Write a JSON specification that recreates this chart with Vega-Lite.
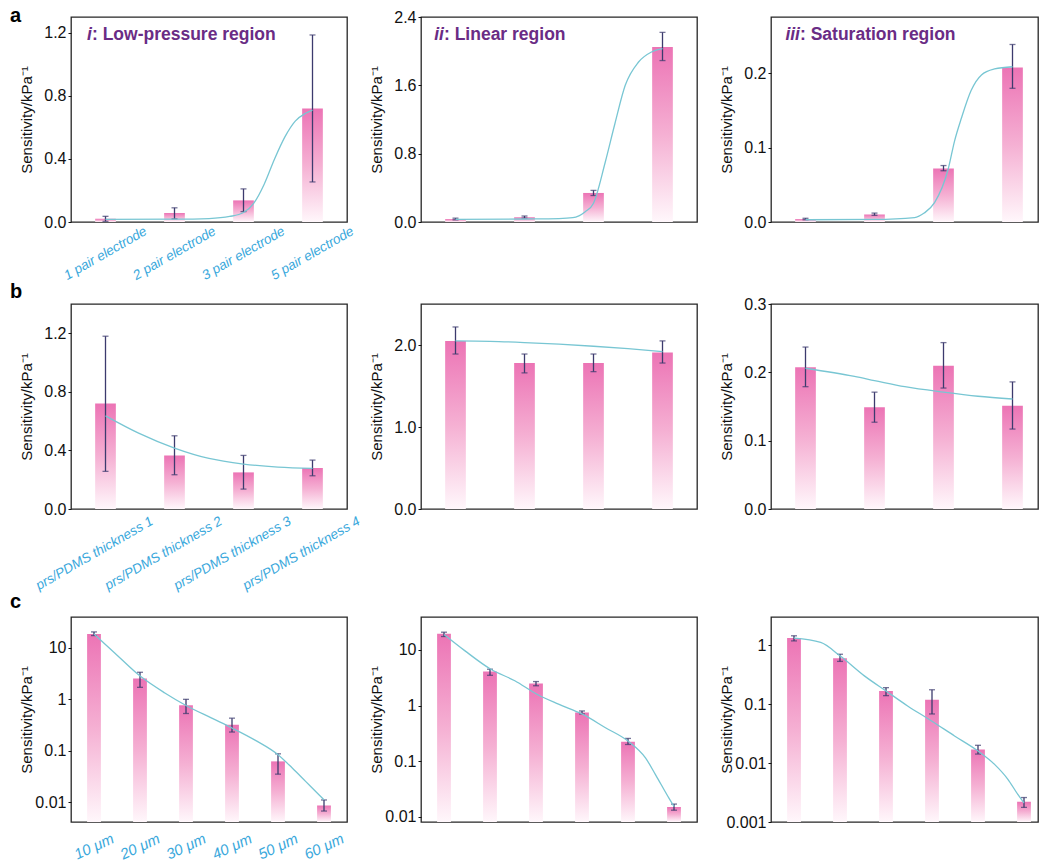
{
"$schema": "https://vega.github.io/schema/vega-lite/v6.json",
"padding": {"left": 9, "top": 5, "right": 0, "bottom": 0},
"background": "white",
"config": {
 "font": "Liberation Sans",
 "view": {"stroke": "#262626", "strokeWidth": 1.3},
 "axis": {"grid": false, "domain": false, "labelColor": "#111111", "titleColor": "#111111"},
 "axisY": {"labelFontSize": 16, "titleFontSize": 15, "titleFontWeight": "normal", "ticks": true, "tickSize": 3, "tickColor": "#111111", "labelPadding": 2, "minExtent": 30, "maxExtent": 30, "titlePadding": 7},
 "axisX": {"ticks": false, "tickSize": 0, "labelFontStyle": "italic", "labelColor": "#3aa8dc", "labelAlign": "center", "labelBaseline": "middle", "labelOverlap": false, "labelLimit": 0, "title": null},
 "title": {"anchor": "start", "frame": "group", "orient": "top", "offset": 0, "fontSize": 20, "fontWeight": "bold", "color": "#000000", "baseline": "alphabetic"}
},
"spacing": -2,
"vconcat": [
{"hconcat": [
 {"width": 276, "height": 205,
  "title": {"text": "a", "dx": -61, "dy": 13},
  "resolve": {"scale": {"x": "independent"}},
  "layer": [
   {"data": {"values": [
     {"cat": "1 pair electrode", "value": 0.02, "lo": 0.004, "hi": 0.036},
     {"cat": "2 pair electrode", "value": 0.057, "lo": 0.02, "hi": 0.09},
     {"cat": "3 pair electrode", "value": 0.137, "lo": 0.066, "hi": 0.21},
     {"cat": "5 pair electrode", "value": 0.72, "lo": 0.254, "hi": 1.186}]},
    "encoding": {"x": {"field": "cat", "type": "nominal", "sort": null, "scale": {"paddingInner": 0.7, "paddingOuter": 0.35}, "axis": {"labelAngle": -30, "labelPadding": 31, "labelFontSize": 13.5}}},
    "layer": [
     {"mark": {"type": "bar", "color": {"gradient": "linear", "x1": 0, "y1": 0, "x2": 0, "y2": 1, "stops": [{"offset": 0, "color": "#ec74b5"}, {"offset": 0.5, "color": "#f5b0d3"}, {"offset": 1, "color": "#fff7fb"}]}},
      "encoding": {"y": {"field": "value", "type": "quantitative", "title": "Sensitivity/kPa⁻¹", "scale": {"domain": [0, 1.3], "nice": false}, "axis": {"values": [0, 0.4, 0.8, 1.2], "format": ".1f"}}}},
     {"mark": {"type": "rule", "color": "#3c3b6e", "strokeWidth": 1.3},
      "encoding": {"y": {"field": "lo", "type": "quantitative", "title": "Sensitivity/kPa⁻¹", "scale": {"domain": [0, 1.3], "nice": false}}, "y2": {"field": "hi"}}},
     {"mark": {"type": "tick", "color": "#3c3b6e", "thickness": 1.3, "size": 6},
      "encoding": {"y": {"field": "lo", "type": "quantitative", "title": "Sensitivity/kPa⁻¹", "scale": {"domain": [0, 1.3], "nice": false}}}},
     {"mark": {"type": "tick", "color": "#3c3b6e", "thickness": 1.3, "size": 6},
      "encoding": {"y": {"field": "hi", "type": "quantitative", "title": "Sensitivity/kPa⁻¹", "scale": {"domain": [0, 1.3], "nice": false}}}}
    ]},
   {"data": {"values": [
     {"pos": 1, "value": 0.017}, {"pos": 2, "value": 0.018}, {"pos": 2.5, "value": 0.022}, {"pos": 2.8, "value": 0.035},
     {"pos": 3.0, "value": 0.06}, {"pos": 3.15, "value": 0.12}, {"pos": 3.3, "value": 0.24}, {"pos": 3.45, "value": 0.40},
     {"pos": 3.6, "value": 0.54}, {"pos": 3.75, "value": 0.64}, {"pos": 3.9, "value": 0.69}, {"pos": 4.0, "value": 0.71}]},
    "mark": {"type": "line", "color": "#78c6d3", "strokeWidth": 1.3, "interpolate": "monotone"},
    "encoding": {"x": {"field": "pos", "type": "quantitative", "scale": {"domain": [0.5, 4.5]}, "axis": null},
     "y": {"field": "value", "type": "quantitative", "title": "Sensitivity/kPa⁻¹", "scale": {"domain": [0, 1.3], "nice": false}}}},
   {"data": {"values": [{"pos": 0.804, "value": 1.157, "num": "i", "rest": ": Low-pressure region"}]},
    "encoding": {"x": {"field": "pos", "type": "quantitative", "scale": {"domain": [0.5, 4.5]}, "axis": null},
     "y": {"field": "value", "type": "quantitative", "title": "Sensitivity/kPa⁻¹", "scale": {"domain": [0, 1.3], "nice": false}}},
    "layer": [
     {"mark": {"type": "text", "align": "right", "baseline": "alphabetic", "fontSize": 17.5, "fontWeight": "bold", "fontStyle": "italic", "color": "#6a2c85"}, "encoding": {"text": {"field": "num"}}},
     {"mark": {"type": "text", "align": "left", "baseline": "alphabetic", "fontSize": 17.5, "fontWeight": "bold", "color": "#6a2c85"}, "encoding": {"text": {"field": "rest"}}}
    ]}
  ]},
 {"width": 276, "height": 205,
  "resolve": {"scale": {"x": "independent"}},
  "layer": [
   {"data": {"values": [
     {"cat": "1 pair electrode", "value": 0.035, "lo": 0.025, "hi": 0.045},
     {"cat": "2 pair electrode", "value": 0.055, "lo": 0.045, "hi": 0.07},
     {"cat": "3 pair electrode", "value": 0.34, "lo": 0.31, "hi": 0.37},
     {"cat": "5 pair electrode", "value": 2.05, "lo": 1.89, "hi": 2.22}]},
    "encoding": {"x": {"field": "cat", "type": "nominal", "sort": null, "scale": {"paddingInner": 0.7, "paddingOuter": 0.35}, "axis": null}},
    "layer": [
     {"mark": {"type": "bar", "color": {"gradient": "linear", "x1": 0, "y1": 0, "x2": 0, "y2": 1, "stops": [{"offset": 0, "color": "#ec74b5"}, {"offset": 0.5, "color": "#f5b0d3"}, {"offset": 1, "color": "#fff7fb"}]}},
      "encoding": {"y": {"field": "value", "type": "quantitative", "title": "Sensitivity/kPa⁻¹", "scale": {"domain": [0, 2.4], "nice": false}, "axis": {"values": [0, 0.8, 1.6, 2.4], "format": ".1f"}}}},
     {"mark": {"type": "rule", "color": "#3c3b6e", "strokeWidth": 1.3},
      "encoding": {"y": {"field": "lo", "type": "quantitative", "title": "Sensitivity/kPa⁻¹", "scale": {"domain": [0, 2.4], "nice": false}}, "y2": {"field": "hi"}}},
     {"mark": {"type": "tick", "color": "#3c3b6e", "thickness": 1.3, "size": 6},
      "encoding": {"y": {"field": "lo", "type": "quantitative", "title": "Sensitivity/kPa⁻¹", "scale": {"domain": [0, 2.4], "nice": false}}}},
     {"mark": {"type": "tick", "color": "#3c3b6e", "thickness": 1.3, "size": 6},
      "encoding": {"y": {"field": "hi", "type": "quantitative", "title": "Sensitivity/kPa⁻¹", "scale": {"domain": [0, 2.4], "nice": false}}}}
    ]},
   {"data": {"values": [
     {"pos": 1, "value": 0.03}, {"pos": 2, "value": 0.035}, {"pos": 2.5, "value": 0.04}, {"pos": 2.7, "value": 0.05},
     {"pos": 2.88, "value": 0.12}, {"pos": 3.0, "value": 0.22}, {"pos": 3.17, "value": 0.7}, {"pos": 3.31, "value": 1.15},
     {"pos": 3.46, "value": 1.6}, {"pos": 3.65, "value": 1.87}, {"pos": 3.84, "value": 1.99}, {"pos": 4.0, "value": 2.03}]},
    "mark": {"type": "line", "color": "#78c6d3", "strokeWidth": 1.3, "interpolate": "monotone"},
    "encoding": {"x": {"field": "pos", "type": "quantitative", "scale": {"domain": [0.5, 4.5]}, "axis": null},
     "y": {"field": "value", "type": "quantitative", "title": "Sensitivity/kPa⁻¹", "scale": {"domain": [0, 2.4], "nice": false}}}},
   {"data": {"values": [{"pos": 0.833, "value": 2.13, "num": "ii", "rest": ": Linear region"}]},
    "encoding": {"x": {"field": "pos", "type": "quantitative", "scale": {"domain": [0.5, 4.5]}, "axis": null},
     "y": {"field": "value", "type": "quantitative", "title": "Sensitivity/kPa⁻¹", "scale": {"domain": [0, 2.4], "nice": false}}},
    "layer": [
     {"mark": {"type": "text", "align": "right", "baseline": "alphabetic", "fontSize": 17.5, "fontWeight": "bold", "fontStyle": "italic", "color": "#6a2c85"}, "encoding": {"text": {"field": "num"}}},
     {"mark": {"type": "text", "align": "left", "baseline": "alphabetic", "fontSize": 17.5, "fontWeight": "bold", "color": "#6a2c85"}, "encoding": {"text": {"field": "rest"}}}
    ]}
  ]},
 {"width": 267, "height": 205,
  "resolve": {"scale": {"x": "independent"}},
  "layer": [
   {"data": {"values": [
     {"cat": "1 pair electrode", "value": 0.004, "lo": 0.003, "hi": 0.005},
     {"cat": "2 pair electrode", "value": 0.01, "lo": 0.009, "hi": 0.012},
     {"cat": "3 pair electrode", "value": 0.072, "lo": 0.069, "hi": 0.076},
     {"cat": "5 pair electrode", "value": 0.208, "lo": 0.18, "hi": 0.239}]},
    "encoding": {"x": {"field": "cat", "type": "nominal", "sort": null, "scale": {"paddingInner": 0.7, "paddingOuter": 0.35, "range": [0, 276]}, "axis": null}},
    "layer": [
     {"mark": {"type": "bar", "color": {"gradient": "linear", "x1": 0, "y1": 0, "x2": 0, "y2": 1, "stops": [{"offset": 0, "color": "#ec74b5"}, {"offset": 0.5, "color": "#f5b0d3"}, {"offset": 1, "color": "#fff7fb"}]}},
      "encoding": {"y": {"field": "value", "type": "quantitative", "title": "Sensitivity/kPa⁻¹", "scale": {"domain": [0, 0.276], "nice": false}, "axis": {"values": [0, 0.1, 0.2], "format": ".1f"}}}},
     {"mark": {"type": "rule", "color": "#3c3b6e", "strokeWidth": 1.3},
      "encoding": {"y": {"field": "lo", "type": "quantitative", "title": "Sensitivity/kPa⁻¹", "scale": {"domain": [0, 0.276], "nice": false}}, "y2": {"field": "hi"}}},
     {"mark": {"type": "tick", "color": "#3c3b6e", "thickness": 1.3, "size": 6},
      "encoding": {"y": {"field": "lo", "type": "quantitative", "title": "Sensitivity/kPa⁻¹", "scale": {"domain": [0, 0.276], "nice": false}}}},
     {"mark": {"type": "tick", "color": "#3c3b6e", "thickness": 1.3, "size": 6},
      "encoding": {"y": {"field": "hi", "type": "quantitative", "title": "Sensitivity/kPa⁻¹", "scale": {"domain": [0, 0.276], "nice": false}}}}
    ]},
   {"data": {"values": [
     {"pos": 1, "value": 0.003}, {"pos": 2, "value": 0.0035}, {"pos": 2.58, "value": 0.006}, {"pos": 2.72, "value": 0.012},
     {"pos": 2.87, "value": 0.026}, {"pos": 3.07, "value": 0.072}, {"pos": 3.16, "value": 0.109}, {"pos": 3.26, "value": 0.14},
     {"pos": 3.4, "value": 0.177}, {"pos": 3.55, "value": 0.198}, {"pos": 3.74, "value": 0.206}, {"pos": 4.0, "value": 0.209}]},
    "mark": {"type": "line", "color": "#78c6d3", "strokeWidth": 1.3, "interpolate": "monotone"},
    "encoding": {"x": {"field": "pos", "type": "quantitative", "scale": {"domain": [0.5, 4.5], "range": [0, 276]}, "axis": null},
     "y": {"field": "value", "type": "quantitative", "title": "Sensitivity/kPa⁻¹", "scale": {"domain": [0, 0.276], "nice": false}}}},
   {"data": {"values": [{"pos": 0.92, "value": 0.245, "num": "iii", "rest": ": Saturation region"}]},
    "encoding": {"x": {"field": "pos", "type": "quantitative", "scale": {"domain": [0.5, 4.5], "range": [0, 276]}, "axis": null},
     "y": {"field": "value", "type": "quantitative", "title": "Sensitivity/kPa⁻¹", "scale": {"domain": [0, 0.276], "nice": false}}},
    "layer": [
     {"mark": {"type": "text", "align": "right", "baseline": "alphabetic", "fontSize": 17.5, "fontWeight": "bold", "fontStyle": "italic", "color": "#6a2c85"}, "encoding": {"text": {"field": "num"}}},
     {"mark": {"type": "text", "align": "left", "baseline": "alphabetic", "fontSize": 17.5, "fontWeight": "bold", "color": "#6a2c85"}, "encoding": {"text": {"field": "rest"}}}
    ]}
  ]}
], "spacing": 74, "bounds": "flush"},
{"hconcat": [
 {"width": 276, "height": 205,
  "title": {"text": "b", "dx": -61, "dy": 2},
  "resolve": {"scale": {"x": "independent"}},
  "layer": [
   {"data": {"values": [
     {"cat": "prs/PDMS thickness 1", "value": 0.72, "lo": 0.257, "hi": 1.18},
     {"cat": "prs/PDMS thickness 2", "value": 0.366, "lo": 0.234, "hi": 0.50},
     {"cat": "prs/PDMS thickness 3", "value": 0.25, "lo": 0.136, "hi": 0.366},
     {"cat": "prs/PDMS thickness 4", "value": 0.28, "lo": 0.227, "hi": 0.334}]},
    "encoding": {"x": {"field": "cat", "type": "nominal", "sort": null, "scale": {"paddingInner": 0.7, "paddingOuter": 0.35}, "axis": {"labelAngle": -30, "labelPadding": 44, "labelOffset": -11, "labelFontSize": 13.5}}},
    "layer": [
     {"mark": {"type": "bar", "color": {"gradient": "linear", "x1": 0, "y1": 0, "x2": 0, "y2": 1, "stops": [{"offset": 0, "color": "#ec74b5"}, {"offset": 0.5, "color": "#f5b0d3"}, {"offset": 1, "color": "#fff7fb"}]}},
      "encoding": {"y": {"field": "value", "type": "quantitative", "title": "Sensitivity/kPa⁻¹", "scale": {"domain": [0, 1.4], "nice": false}, "axis": {"values": [0, 0.4, 0.8, 1.2], "format": ".1f"}}}},
     {"mark": {"type": "rule", "color": "#3c3b6e", "strokeWidth": 1.3},
      "encoding": {"y": {"field": "lo", "type": "quantitative", "title": "Sensitivity/kPa⁻¹", "scale": {"domain": [0, 1.4], "nice": false}}, "y2": {"field": "hi"}}},
     {"mark": {"type": "tick", "color": "#3c3b6e", "thickness": 1.3, "size": 6},
      "encoding": {"y": {"field": "lo", "type": "quantitative", "title": "Sensitivity/kPa⁻¹", "scale": {"domain": [0, 1.4], "nice": false}}}},
     {"mark": {"type": "tick", "color": "#3c3b6e", "thickness": 1.3, "size": 6},
      "encoding": {"y": {"field": "hi", "type": "quantitative", "title": "Sensitivity/kPa⁻¹", "scale": {"domain": [0, 1.4], "nice": false}}}}
    ]},
   {"data": {"values": [
     {"pos": 1, "value": 0.636}, {"pos": 1.48, "value": 0.518}, {"pos": 2, "value": 0.416}, {"pos": 2.5, "value": 0.345},
     {"pos": 3, "value": 0.307}, {"pos": 3.5, "value": 0.286}, {"pos": 4, "value": 0.277}]},
    "mark": {"type": "line", "color": "#78c6d3", "strokeWidth": 1.3, "interpolate": "monotone"},
    "encoding": {"x": {"field": "pos", "type": "quantitative", "scale": {"domain": [0.5, 4.5]}, "axis": null},
     "y": {"field": "value", "type": "quantitative", "title": "Sensitivity/kPa⁻¹", "scale": {"domain": [0, 1.4], "nice": false}}}}
  ]},
 {"width": 276, "height": 205,
  "resolve": {"scale": {"x": "independent"}},
  "layer": [
   {"data": {"values": [
     {"cat": "prs/PDMS thickness 1", "value": 2.05, "lo": 1.89, "hi": 2.22},
     {"cat": "prs/PDMS thickness 2", "value": 1.78, "lo": 1.66, "hi": 1.89},
     {"cat": "prs/PDMS thickness 3", "value": 1.78, "lo": 1.675, "hi": 1.89},
     {"cat": "prs/PDMS thickness 4", "value": 1.91, "lo": 1.78, "hi": 2.05}]},
    "encoding": {"x": {"field": "cat", "type": "nominal", "sort": null, "scale": {"paddingInner": 0.7, "paddingOuter": 0.35}, "axis": null}},
    "layer": [
     {"mark": {"type": "bar", "color": {"gradient": "linear", "x1": 0, "y1": 0, "x2": 0, "y2": 1, "stops": [{"offset": 0, "color": "#ec74b5"}, {"offset": 0.5, "color": "#f5b0d3"}, {"offset": 1, "color": "#fff7fb"}]}},
      "encoding": {"y": {"field": "value", "type": "quantitative", "title": "Sensitivity/kPa⁻¹", "scale": {"domain": [0, 2.5], "nice": false}, "axis": {"values": [0, 1, 2], "format": ".1f"}}}},
     {"mark": {"type": "rule", "color": "#3c3b6e", "strokeWidth": 1.3},
      "encoding": {"y": {"field": "lo", "type": "quantitative", "title": "Sensitivity/kPa⁻¹", "scale": {"domain": [0, 2.5], "nice": false}}, "y2": {"field": "hi"}}},
     {"mark": {"type": "tick", "color": "#3c3b6e", "thickness": 1.3, "size": 6},
      "encoding": {"y": {"field": "lo", "type": "quantitative", "title": "Sensitivity/kPa⁻¹", "scale": {"domain": [0, 2.5], "nice": false}}}},
     {"mark": {"type": "tick", "color": "#3c3b6e", "thickness": 1.3, "size": 6},
      "encoding": {"y": {"field": "hi", "type": "quantitative", "title": "Sensitivity/kPa⁻¹", "scale": {"domain": [0, 2.5], "nice": false}}}}
    ]},
   {"data": {"values": [
     {"pos": 1, "value": 2.05}, {"pos": 1.5, "value": 2.045}, {"pos": 2, "value": 2.03}, {"pos": 2.5, "value": 2.01},
     {"pos": 3, "value": 1.985}, {"pos": 3.5, "value": 1.955}, {"pos": 4, "value": 1.92}]},
    "mark": {"type": "line", "color": "#78c6d3", "strokeWidth": 1.3, "interpolate": "monotone"},
    "encoding": {"x": {"field": "pos", "type": "quantitative", "scale": {"domain": [0.5, 4.5]}, "axis": null},
     "y": {"field": "value", "type": "quantitative", "title": "Sensitivity/kPa⁻¹", "scale": {"domain": [0, 2.5], "nice": false}}}}
  ]},
 {"width": 267, "height": 205,
  "resolve": {"scale": {"x": "independent"}},
  "layer": [
   {"data": {"values": [
     {"cat": "prs/PDMS thickness 1", "value": 0.2075, "lo": 0.179, "hi": 0.237},
     {"cat": "prs/PDMS thickness 2", "value": 0.149, "lo": 0.127, "hi": 0.171},
     {"cat": "prs/PDMS thickness 3", "value": 0.2095, "lo": 0.177, "hi": 0.2435},
     {"cat": "prs/PDMS thickness 4", "value": 0.151, "lo": 0.117, "hi": 0.186}]},
    "encoding": {"x": {"field": "cat", "type": "nominal", "sort": null, "scale": {"paddingInner": 0.7, "paddingOuter": 0.35, "range": [0, 276]}, "axis": null}},
    "layer": [
     {"mark": {"type": "bar", "color": {"gradient": "linear", "x1": 0, "y1": 0, "x2": 0, "y2": 1, "stops": [{"offset": 0, "color": "#ec74b5"}, {"offset": 0.5, "color": "#f5b0d3"}, {"offset": 1, "color": "#fff7fb"}]}},
      "encoding": {"y": {"field": "value", "type": "quantitative", "title": "Sensitivity/kPa⁻¹", "scale": {"domain": [0, 0.3], "nice": false}, "axis": {"values": [0, 0.1, 0.2, 0.3], "format": ".1f"}}}},
     {"mark": {"type": "rule", "color": "#3c3b6e", "strokeWidth": 1.3},
      "encoding": {"y": {"field": "lo", "type": "quantitative", "title": "Sensitivity/kPa⁻¹", "scale": {"domain": [0, 0.3], "nice": false}}, "y2": {"field": "hi"}}},
     {"mark": {"type": "tick", "color": "#3c3b6e", "thickness": 1.3, "size": 6},
      "encoding": {"y": {"field": "lo", "type": "quantitative", "title": "Sensitivity/kPa⁻¹", "scale": {"domain": [0, 0.3], "nice": false}}}},
     {"mark": {"type": "tick", "color": "#3c3b6e", "thickness": 1.3, "size": 6},
      "encoding": {"y": {"field": "hi", "type": "quantitative", "title": "Sensitivity/kPa⁻¹", "scale": {"domain": [0, 0.3], "nice": false}}}}
    ]},
   {"data": {"values": [
     {"pos": 1, "value": 0.206}, {"pos": 1.71, "value": 0.194}, {"pos": 2, "value": 0.188}, {"pos": 2.44, "value": 0.179},
     {"pos": 3, "value": 0.171}, {"pos": 3.5, "value": 0.165}, {"pos": 4, "value": 0.161}]},
    "mark": {"type": "line", "color": "#78c6d3", "strokeWidth": 1.3, "interpolate": "monotone"},
    "encoding": {"x": {"field": "pos", "type": "quantitative", "scale": {"domain": [0.5, 4.5], "range": [0, 276]}, "axis": null},
     "y": {"field": "value", "type": "quantitative", "title": "Sensitivity/kPa⁻¹", "scale": {"domain": [0, 0.3], "nice": false}}}}
  ]}
], "spacing": 74, "bounds": "flush"},
{"hconcat": [
 {"width": 276, "height": 205,
  "title": {"text": "c", "dx": -61, "dy": -1},
  "resolve": {"scale": {"x": "independent"}},
  "layer": [
   {"data": {"values": [
     {"cat": "10 μm", "value": 18.7, "lo": 17.4, "hi": 20.5},
     {"cat": "20 μm", "value": 2.53, "lo": 1.71, "hi": 3.36},
     {"cat": "30 μm", "value": 0.764, "lo": 0.53, "hi": 1.0},
     {"cat": "40 μm", "value": 0.321, "lo": 0.231, "hi": 0.43},
     {"cat": "50 μm", "value": 0.062, "lo": 0.035, "hi": 0.087},
     {"cat": "60 μm", "value": 0.0086, "lo": 0.0067, "hi": 0.011}]},
    "encoding": {"x": {"field": "cat", "type": "nominal", "sort": null, "scale": {"paddingInner": 0.7, "paddingOuter": 0.35}, "axis": {"labelAngle": -25, "labelPadding": 24, "labelFontSize": 15}}},
    "layer": [
     {"mark": {"type": "bar", "color": {"gradient": "linear", "x1": 0, "y1": 0, "x2": 0, "y2": 1, "stops": [{"offset": 0, "color": "#ec74b5"}, {"offset": 0.5, "color": "#f5b0d3"}, {"offset": 1, "color": "#fff7fb"}]}},
      "encoding": {"y": {"field": "value", "type": "quantitative", "title": "Sensitivity/kPa⁻¹", "scale": {"type": "log", "domain": [0.0041, 40], "nice": false}, "axis": {"values": [0.01, 0.1, 1, 10], "format": "~g"}}, "y2": {"datum": 0.0041}}},
     {"mark": {"type": "rule", "color": "#3c3b6e", "strokeWidth": 1.3},
      "encoding": {"y": {"field": "lo", "type": "quantitative", "title": "Sensitivity/kPa⁻¹", "scale": {"type": "log", "domain": [0.0041, 40], "nice": false}}, "y2": {"field": "hi"}}},
     {"mark": {"type": "tick", "color": "#3c3b6e", "thickness": 1.3, "size": 6},
      "encoding": {"y": {"field": "lo", "type": "quantitative", "title": "Sensitivity/kPa⁻¹", "scale": {"type": "log", "domain": [0.0041, 40], "nice": false}}}},
     {"mark": {"type": "tick", "color": "#3c3b6e", "thickness": 1.3, "size": 6},
      "encoding": {"y": {"field": "hi", "type": "quantitative", "title": "Sensitivity/kPa⁻¹", "scale": {"type": "log", "domain": [0.0041, 40], "nice": false}}}}
    ]},
   {"data": {"values": [
     {"pos": 1, "value": 18.7}, {"pos": 1.45, "value": 8.0}, {"pos": 2.01, "value": 2.8}, {"pos": 2.54, "value": 1.33},
     {"pos": 3.0, "value": 0.76}, {"pos": 3.56, "value": 0.43}, {"pos": 4.0, "value": 0.277}, {"pos": 4.51, "value": 0.159},
     {"pos": 5.0, "value": 0.0836}, {"pos": 5.31, "value": 0.046}, {"pos": 5.6, "value": 0.0253}, {"pos": 5.89, "value": 0.0139}, {"pos": 6.0, "value": 0.0111}]},
    "mark": {"type": "line", "color": "#78c6d3", "strokeWidth": 1.3, "interpolate": "monotone"},
    "encoding": {"x": {"field": "pos", "type": "quantitative", "scale": {"domain": [0.5, 6.5]}, "axis": null},
     "y": {"field": "value", "type": "quantitative", "title": "Sensitivity/kPa⁻¹", "scale": {"type": "log", "domain": [0.0041, 40], "nice": false}}}}
  ]},
 {"width": 276, "height": 205,
  "resolve": {"scale": {"x": "independent"}},
  "layer": [
   {"data": {"values": [
     {"cat": "10 μm", "value": 19.5, "lo": 17.4, "hi": 20.8},
     {"cat": "20 μm", "value": 4.1, "lo": 3.5, "hi": 4.5},
     {"cat": "30 μm", "value": 2.5, "lo": 2.27, "hi": 2.7},
     {"cat": "40 μm", "value": 0.747, "lo": 0.707, "hi": 0.8},
     {"cat": "50 μm", "value": 0.224, "lo": 0.2, "hi": 0.257},
     {"cat": "60 μm", "value": 0.015, "lo": 0.0132, "hi": 0.017}]},
    "encoding": {"x": {"field": "cat", "type": "nominal", "sort": null, "scale": {"paddingInner": 0.7, "paddingOuter": 0.35}, "axis": null}},
    "layer": [
     {"mark": {"type": "bar", "color": {"gradient": "linear", "x1": 0, "y1": 0, "x2": 0, "y2": 1, "stops": [{"offset": 0, "color": "#ec74b5"}, {"offset": 0.5, "color": "#f5b0d3"}, {"offset": 1, "color": "#fff7fb"}]}},
      "encoding": {"y": {"field": "value", "type": "quantitative", "title": "Sensitivity/kPa⁻¹", "scale": {"type": "log", "domain": [0.0081, 39], "nice": false}, "axis": {"values": [0.01, 0.1, 1, 10], "format": "~g"}}, "y2": {"datum": 0.0081}}},
     {"mark": {"type": "rule", "color": "#3c3b6e", "strokeWidth": 1.3},
      "encoding": {"y": {"field": "lo", "type": "quantitative", "title": "Sensitivity/kPa⁻¹", "scale": {"type": "log", "domain": [0.0081, 39], "nice": false}}, "y2": {"field": "hi"}}},
     {"mark": {"type": "tick", "color": "#3c3b6e", "thickness": 1.3, "size": 6},
      "encoding": {"y": {"field": "lo", "type": "quantitative", "title": "Sensitivity/kPa⁻¹", "scale": {"type": "log", "domain": [0.0081, 39], "nice": false}}}},
     {"mark": {"type": "tick", "color": "#3c3b6e", "thickness": 1.3, "size": 6},
      "encoding": {"y": {"field": "hi", "type": "quantitative", "title": "Sensitivity/kPa⁻¹", "scale": {"type": "log", "domain": [0.0081, 39], "nice": false}}}}
    ]},
   {"data": {"values": [
     {"pos": 1, "value": 18.9}, {"pos": 1.45, "value": 9.7}, {"pos": 2.01, "value": 4.53}, {"pos": 2.54, "value": 2.79},
     {"pos": 3.02, "value": 1.6}, {"pos": 3.49, "value": 1.06}, {"pos": 4.01, "value": 0.70}, {"pos": 4.51, "value": 0.40},
     {"pos": 5.0, "value": 0.23}, {"pos": 5.38, "value": 0.115}, {"pos": 5.6, "value": 0.057}, {"pos": 5.89, "value": 0.0217}, {"pos": 6.0, "value": 0.0154}]},
    "mark": {"type": "line", "color": "#78c6d3", "strokeWidth": 1.3, "interpolate": "monotone"},
    "encoding": {"x": {"field": "pos", "type": "quantitative", "scale": {"domain": [0.5, 6.5]}, "axis": null},
     "y": {"field": "value", "type": "quantitative", "title": "Sensitivity/kPa⁻¹", "scale": {"type": "log", "domain": [0.0081, 39], "nice": false}}}}
  ]},
 {"width": 267, "height": 205,
  "resolve": {"scale": {"x": "independent"}},
  "layer": [
   {"data": {"values": [
     {"cat": "10 μm", "value": 1.32, "lo": 1.18, "hi": 1.44},
     {"cat": "20 μm", "value": 0.6, "lo": 0.53, "hi": 0.70},
     {"cat": "30 μm", "value": 0.167, "lo": 0.139, "hi": 0.19},
     {"cat": "40 μm", "value": 0.118, "lo": 0.068, "hi": 0.175},
     {"cat": "50 μm", "value": 0.0169, "lo": 0.0142, "hi": 0.02},
     {"cat": "60 μm", "value": 0.0022, "lo": 0.00177, "hi": 0.0026}]},
    "encoding": {"x": {"field": "cat", "type": "nominal", "sort": null, "scale": {"paddingInner": 0.7, "paddingOuter": 0.35, "range": [0, 276]}, "axis": null}},
    "layer": [
     {"mark": {"type": "bar", "color": {"gradient": "linear", "x1": 0, "y1": 0, "x2": 0, "y2": 1, "stops": [{"offset": 0, "color": "#ec74b5"}, {"offset": 0.5, "color": "#f5b0d3"}, {"offset": 1, "color": "#fff7fb"}]}},
      "encoding": {"y": {"field": "value", "type": "quantitative", "title": "Sensitivity/kPa⁻¹", "scale": {"type": "log", "domain": [0.001, 3], "nice": false}, "axis": {"values": [0.001, 0.01, 0.1, 1], "format": "~g"}}, "y2": {"datum": 0.001}}},
     {"mark": {"type": "rule", "color": "#3c3b6e", "strokeWidth": 1.3},
      "encoding": {"y": {"field": "lo", "type": "quantitative", "title": "Sensitivity/kPa⁻¹", "scale": {"type": "log", "domain": [0.001, 3], "nice": false}}, "y2": {"field": "hi"}}},
     {"mark": {"type": "tick", "color": "#3c3b6e", "thickness": 1.3, "size": 6},
      "encoding": {"y": {"field": "lo", "type": "quantitative", "title": "Sensitivity/kPa⁻¹", "scale": {"type": "log", "domain": [0.001, 3], "nice": false}}}},
     {"mark": {"type": "tick", "color": "#3c3b6e", "thickness": 1.3, "size": 6},
      "encoding": {"y": {"field": "hi", "type": "quantitative", "title": "Sensitivity/kPa⁻¹", "scale": {"type": "log", "domain": [0.001, 3], "nice": false}}}}
    ]},
   {"data": {"values": [
     {"pos": 1, "value": 1.31}, {"pos": 1.58, "value": 1.11}, {"pos": 2.0, "value": 0.659}, {"pos": 2.53, "value": 0.301},
     {"pos": 3.0, "value": 0.167}, {"pos": 3.47, "value": 0.093}, {"pos": 3.99, "value": 0.0518}, {"pos": 4.49, "value": 0.0288},
     {"pos": 5.0, "value": 0.016}, {"pos": 5.36, "value": 0.0095}, {"pos": 5.65, "value": 0.0053}, {"pos": 5.87, "value": 0.0029}, {"pos": 6.0, "value": 0.0021}]},
    "mark": {"type": "line", "color": "#78c6d3", "strokeWidth": 1.3, "interpolate": "monotone"},
    "encoding": {"x": {"field": "pos", "type": "quantitative", "scale": {"domain": [0.5, 6.5], "range": [0, 276]}, "axis": null},
     "y": {"field": "value", "type": "quantitative", "title": "Sensitivity/kPa⁻¹", "scale": {"type": "log", "domain": [0.001, 3], "nice": false}}}}
  ]}
], "spacing": 74, "bounds": "flush"}
]
}
